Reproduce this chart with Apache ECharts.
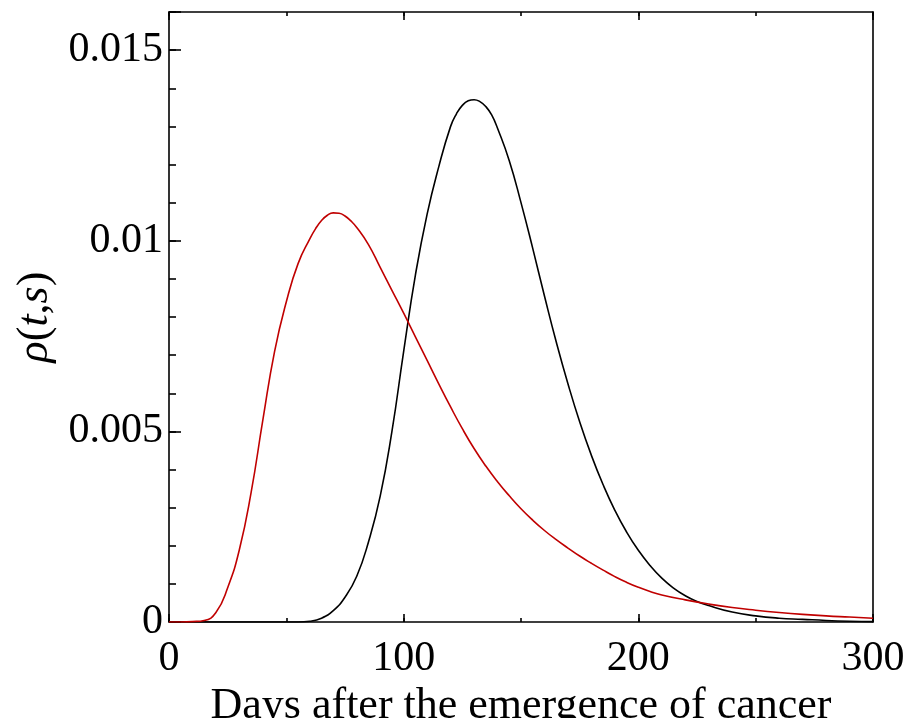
<!DOCTYPE html>
<html lang="en">
<head>
    <meta charset="UTF-8">
    <title>rho(t,s)</title>
    <script src="https://cdn.jsdelivr.net/npm/echarts@6/dist/echarts.min.js"></script>
    <style>
        html, body { margin: 0; padding: 0; background: #fff; overflow: hidden; }
        #main { width: 908px; height: 718px; }
    </style>
</head>
<body>
    <div id="main"></div>
    <script>
        // 红线（早期）
        var redDays = [0, 5, 10, 15, 20, 25, 30, 35, 40, 45, 50, 55, 60, 62.5, 65, 67.5, 70, 72.5, 75,
            77.5, 80, 85, 90, 95, 100, 105, 110, 115, 120, 125, 130, 135, 140, 145, 150, 155,
            160, 165, 170, 175, 180, 185, 190, 195, 200, 205, 210, 220, 230, 240, 250, 260,
            270, 280, 290, 300];
        var redVals = [0, 0, 0.00001, 0.00004, 0.00025, 0.0009, 0.0019, 0.0034, 0.0053, 0.0071, 0.0084,
            0.0094, 0.01005, 0.01032, 0.01053, 0.01067, 0.01073, 0.01072, 0.01065,
            0.01052, 0.01035, 0.0099, 0.0093, 0.0087, 0.0081, 0.00748, 0.00686, 0.00624,
            0.00564, 0.00507, 0.00455, 0.00409, 0.00368, 0.00331, 0.00297, 0.00267,
            0.0024, 0.00216, 0.00194, 0.00173, 0.00154, 0.00136, 0.00119, 0.00104, 0.00091,
            0.0008, 0.00071, 0.00058, 0.00047, 0.00038, 0.00031, 0.00025,
            0.0002, 0.00016, 0.00013, 0.0001];

        // 黑线（后期）
        var blackDays = [0, 20, 40, 50, 55, 60, 65, 70, 75, 80, 85, 90, 95, 100, 105, 110, 115, 120,
            122.5, 125, 127.5, 130, 132.5, 135, 137.5, 140, 145, 150, 155, 160, 165, 170, 175,
            180, 185, 190, 195, 200, 205, 210, 215, 220, 225, 230, 240, 250, 260, 270, 280,
            290, 300];
        var blackVals = [0, 0, 0, 0, 0, 0.00002, 0.0001, 0.0003, 0.00065, 0.0012, 0.0021, 0.0033,
            0.005, 0.0071, 0.0091, 0.0107, 0.01195, 0.013,
            0.01333, 0.01355, 0.01367, 0.0137, 0.01365, 0.01352, 0.0133, 0.01295, 0.0121,
            0.011, 0.0098, 0.00855, 0.00735, 0.00625, 0.00525,
            0.00437, 0.0036, 0.00293, 0.00236, 0.00188, 0.00148, 0.00115, 0.00089, 0.00069,
            0.00054, 0.00043, 0.00026, 0.00016, 0.0001, 0.00007, 0.00004, 0.00002, 0.00001];

        var yLabelVals = [0, 0.005, 0.01, 0.015];
        var xLabelVals = [0, 100, 200, 300];

        function pairs(xs, ys) {
            var out = [];
            for (var i = 0; i < xs.length; i++) {
                out.push([xs[i], ys[i]]);
            }
            return out;
        }

        var font = 'Liberation Serif';
        var lineStyle = { color: '#000', width: 1.6 };

        var myChart = echarts.init(document.getElementById('main'));

        var option = {
            animation: false,
            backgroundColor: '#fff',
            grid: { left: 169, right: 35, top: 12, bottom: 96, outerBoundsMode: 'none', containLabel: false },
            xAxis: [{
                // 下边：小刻度 + 标签
                type: 'value',
                min: 0, max: 300, interval: 50,
                position: 'bottom',
                axisLine: { show: true, onZero: false, lineStyle: lineStyle },
                axisTick: { show: true, inside: true, length: 4, lineStyle: lineStyle },
                splitLine: { show: false },
                axisLabel: {
                    margin: 16,
                    fontFamily: font, fontSize: 42, color: '#000',
                    formatter: function(v) {
                        return xLabelVals.indexOf(Math.round(v)) >= 0 ? String(Math.round(v)) : '';
                    }
                },
                name: 'Days after the emergence of cancer',
                nameLocation: 'middle',
                nameGap: 59,
                nameTextStyle: { fontFamily: font, fontSize: 44, color: '#000' }
            }, {
                // 下边：大刻度
                type: 'value',
                min: 0, max: 300, interval: 100,
                position: 'bottom',
                axisLine: { show: false, onZero: false },
                axisTick: { show: true, inside: true, length: 8, lineStyle: lineStyle },
                splitLine: { show: false },
                axisLabel: { show: false }
            }, {
                // 上边
                type: 'value',
                min: 0, max: 300, interval: 50,
                position: 'top',
                axisLine: { show: true, onZero: false, lineStyle: lineStyle },
                axisTick: { show: true, inside: true, length: 4, lineStyle: lineStyle },
                splitLine: { show: false },
                axisLabel: { show: false }
            }, {
                type: 'value',
                min: 0, max: 300, interval: 100,
                position: 'top',
                axisLine: { show: false, onZero: false },
                axisTick: { show: true, inside: true, length: 8, lineStyle: lineStyle },
                splitLine: { show: false },
                axisLabel: { show: false }
            }],
            yAxis: [{
                // 左边：小刻度 + 标签
                type: 'value',
                min: 0, max: 0.016, interval: 0.001,
                position: 'left',
                axisLine: { show: true, onZero: false, lineStyle: lineStyle },
                axisTick: { show: true, inside: true, length: 7, lineStyle: lineStyle },
                splitLine: { show: false },
                axisLabel: {
                    margin: 6,
                    fontFamily: font, fontSize: 42, color: '#000',
                    formatter: function(v) {
                        var r = +v.toFixed(4);
                        return yLabelVals.indexOf(r) >= 0 ? String(r) : '';
                    }
                },
                name: '{i|ρ}{n|(}{i|t}{n|,}{i|s}{n|)}',
                nameLocation: 'middle',
                nameGap: 112,
                nameTextStyle: {
                    rich: {
                        i: { fontFamily: font, fontSize: 44, fontStyle: 'italic', color: '#000' },
                        n: { fontFamily: font, fontSize: 44, color: '#000' }
                    }
                }
            }, {
                // 左边：大刻度
                type: 'value',
                min: 0, max: 0.016, interval: 0.005,
                position: 'left',
                axisLine: { show: false, onZero: false },
                axisTick: { show: true, inside: true, length: 12, lineStyle: lineStyle },
                splitLine: { show: false },
                axisLabel: { show: false }
            }, {
                // 右边框
                type: 'value',
                min: 0, max: 0.016,
                position: 'right',
                axisLine: { show: true, onZero: false, lineStyle: lineStyle },
                axisTick: { show: false },
                splitLine: { show: false },
                axisLabel: { show: false }
            }],
            series: [{
                type: 'line',
                xAxisIndex: 0,
                yAxisIndex: 0,
                showSymbol: false,
                smooth: 0.5,
                clip: true,
                lineStyle: { color: '#000', width: 1.6 },
                data: pairs(blackDays, blackVals)
            }, {
                type: 'line',
                xAxisIndex: 0,
                yAxisIndex: 0,
                showSymbol: false,
                smooth: 0.5,
                clip: true,
                lineStyle: { color: '#c00000', width: 1.6 },
                data: pairs(redDays, redVals)
            }]
        };

        myChart.setOption(option);
    </script>
</body>
</html>
